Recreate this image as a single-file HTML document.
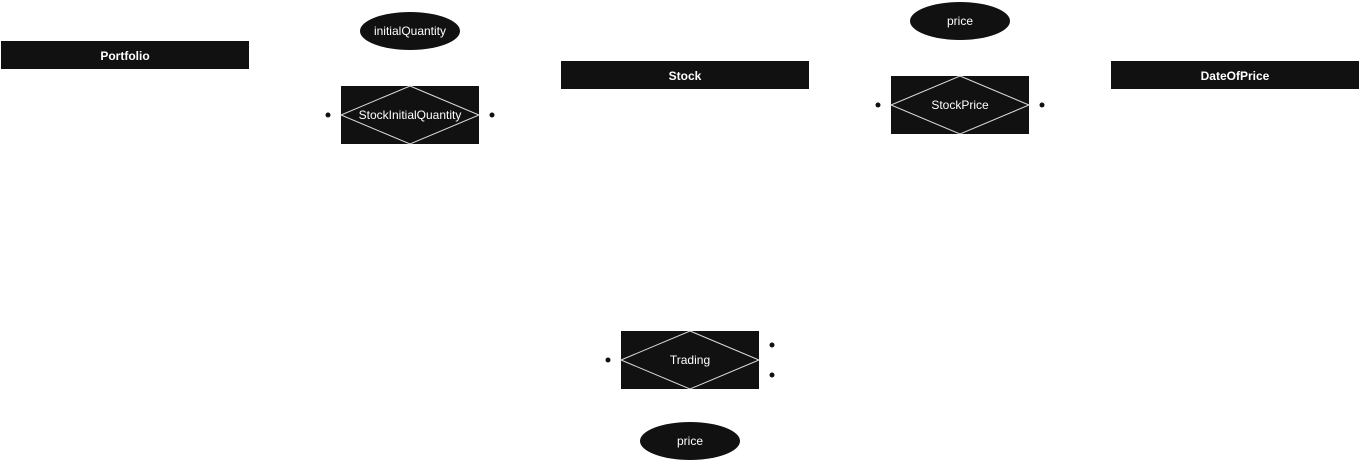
<!DOCTYPE html>
<html><head><style>body{margin:0;background:#fff}svg{display:block}</style></head>
<body>
<svg width="1361" height="462" xmlns="http://www.w3.org/2000/svg" font-family="Liberation Sans, Arial, sans-serif" font-size="12">
<rect width="1361" height="462" fill="#fff"/>
<g fill="#111">
<rect x="1" y="41" width="248" height="28"/>
<rect x="561" y="61" width="248" height="28"/>
<rect x="1111" y="61" width="248" height="28"/>
<ellipse cx="410" cy="31" rx="50" ry="19"/>
<ellipse cx="960" cy="21" rx="50" ry="19"/>
<ellipse cx="690" cy="441" rx="50" ry="19"/>
<rect x="341" y="86" width="138" height="58"/>
<rect x="891" y="76" width="138" height="58"/>
<rect x="621" y="331" width="138" height="58"/>
<circle cx="328" cy="115" r="2.5"/><circle cx="492" cy="115" r="2.5"/>
<circle cx="878" cy="105" r="2.5"/><circle cx="1042" cy="105" r="2.5"/>
<circle cx="608" cy="360" r="2.5"/><circle cx="772" cy="345" r="2.5"/><circle cx="772" cy="375" r="2.5"/>
</g>
<g fill="none" stroke="#ddd" stroke-width="1">
<polygon points="410,86 479,115 410,144 341,115"/>
<polygon points="960,76 1029,105 960,134 891,105"/>
<polygon points="690,331 759,360 690,389 621,360"/>
</g>
<g fill="#fff" text-anchor="middle">
<text x="125" y="60" font-weight="bold">Portfolio</text>
<text x="685" y="80" font-weight="bold">Stock</text>
<text x="1235" y="80" font-weight="bold">DateOfPrice</text>
<text x="410" y="35">initialQuantity</text>
<text x="960" y="25">price</text>
<text x="690" y="445">price</text>
<text x="410" y="119">StockInitialQuantity</text>
<text x="960" y="109">StockPrice</text>
<text x="690" y="364">Trading</text>
</g>
</svg>
</body></html>
